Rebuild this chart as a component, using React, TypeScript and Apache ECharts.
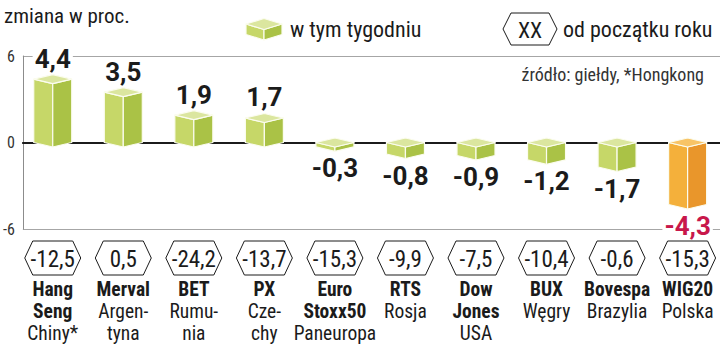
import React, { useEffect, useRef } from "react";
import * as echarts from "echarts";

const categories = ["Hang Seng", "Merval", "BET", "PX", "Euro Stoxx50", "RTS", "Dow Jones", "BUX", "Bovespa", "WIG20"];
const nameLines = [["Hang", "Seng"], ["Merval"], ["BET"], ["PX"], ["Euro", "Stoxx50"], ["RTS"], ["Dow", "Jones"], ["BUX"], ["Bovespa"], ["WIG20"]];
const countryLines = [["Chiny*"], ["Argen-", "tyna"], ["Rumu-", "nia"], ["Cze-", "chy"], ["Paneuropa"], ["Rosja"], ["USA"], ["Węgry"], ["Brazylia"], ["Polska"]];
const weekChange = [4.4, 3.5, 1.9, 1.7, -0.3, -0.8, -0.9, -1.2, -1.7, -4.3];
const ytdChange = [-12.5, 0.5, -24.2, -13.7, -15.3, -9.9, -7.5, -10.4, -0.6, -15.3];
const highlighted = "WIG20";
const yMin = -6;
const yMax = 6;
const yInterval = 6;

const NARROW = "'Liberation Sans Narrow', 'Roboto Condensed', 'DejaVu Sans Condensed', Roboto, sans-serif";
const BOLD = "Roboto, 'Liberation Sans', sans-serif";

const GREEN = { top: "#dbe69f", left: "#c6d768", right: "#aac246" };
const ORANGE = { top: "#f8c466", left: "#f4b03b", right: "#e9962b" };

const fmt = (v: number) => v.toFixed(1).replace(".", ",");

function boxShapes(xc: number, yTop: number, yBot: number, hw: number, d: number, c: any) {
  const stroke = { stroke: "#fbfcef", lineWidth: 1.2, lineJoin: "round" };
  return [
    { type: "polygon", shape: { points: [[xc - hw, yTop], [xc, yTop + d], [xc, yBot + d], [xc - hw, yBot]] }, style: { fill: c.left, ...stroke } },
    { type: "polygon", shape: { points: [[xc, yTop + d], [xc + hw, yTop], [xc + hw, yBot], [xc, yBot + d]] }, style: { fill: c.right, ...stroke } },
    { type: "polygon", shape: { points: [[xc - hw, yTop], [xc, yTop - d], [xc + hw, yTop], [xc, yTop + d]] }, style: { fill: c.top, ...stroke } },
  ];
}

function hexagon(xc: number, yc: number, hw: number, hh: number, inset: number) {
  return [
    [xc - hw, yc], [xc - hw + inset, yc - hh], [xc + hw - inset, yc - hh],
    [xc + hw, yc], [xc + hw - inset, yc + hh], [xc - hw + inset, yc + hh],
  ];
}

export default function App() {
  const ref = useRef<HTMLDivElement>(null);
  useEffect(() => {
    if (!ref.current) return;
    const chart = echarts.init(ref.current, null, { renderer: "svg" });
    const data = weekChange.map((v, i) => [i, v, ytdChange[i]]);

    const renderItem = (params: any, api: any) => {
      const i = params.dataIndex;
      const v = api.value(1);
      const [xc, y0] = api.coord([i, 0]);
      const yv = api.coord([i, v])[1];
      const yBase = api.coord([i, yMin])[1];
      const yTop = Math.min(y0, yv);
      const yBot = Math.max(y0, yv);
      const hw = 19;
      const d = 4.5;
      const hi = categories[i] === highlighted;
      const children: any[] = boxShapes(xc, yTop, yBot, hw, d, hi ? ORANGE : GREEN);
      children.push({
        type: "text",
        x: xc,
        y: v >= 0 ? yTop - d - 3 : yBot + d + 4,
        z2: 10,
        style: {
          text: fmt(v),
          fill: hi ? "#c8174b" : "#1b1b1b",
          fontFamily: BOLD,
          fontWeight: "bold",
          fontSize: 26,
          align: "center",
          verticalAlign: v >= 0 ? "bottom" : "top",
          backgroundColor: "#ffffff",
          padding: [0, 2, 0, 2],
        },
      });
      const hy = yBase + 29;
      children.push({
        type: "polygon",
        shape: { points: hexagon(xc, hy, 28, 17, 8) },
        style: { fill: "#ffffff", stroke: "#1b1b1b", lineWidth: 1 },
      });
      children.push({
        type: "text",
        x: xc,
        y: hy + 1,
        style: { text: fmt(ytdChange[i]), fill: "#1b1b1b", fontFamily: NARROW, fontSize: 23, align: "center", verticalAlign: "middle" },
      });
      const rich = [
        ...nameLines[i].map((t) => `{b|${t}}`),
        ...countryLines[i].map((t) => `{r|${t}}`),
      ].join("\n");
      children.push({
        type: "text",
        x: xc,
        y: yBase + 49,
        style: {
          text: rich,
          align: "center",
          verticalAlign: "top",
          rich: {
            b: { fontFamily: NARROW, fontWeight: "bold", fontSize: 19.5, lineHeight: 22, fill: "#1b1b1b", align: "center" },
            r: { fontFamily: NARROW, fontWeight: "normal", fontSize: 19.5, lineHeight: 22, fill: "#1b1b1b", align: "center" },
          },
        },
      });
      return { type: "group", children };
    };

    const legendBox = boxShapes(264, 24, 34.5, 18, 5.5, GREEN);

    chart.setOption({
      animation: false,
      backgroundColor: "#ffffff",
      title: [
        { text: "zmiana w proc.", left: -1, top: 0, textStyle: { fontFamily: NARROW, fontWeight: "normal", fontSize: 21, color: "#1b1b1b" } },
        { text: "źródło: giełdy, *Hongkong", right: 11, top: 60, textStyle: { fontFamily: NARROW, fontWeight: "normal", fontSize: 18, color: "#333333" } },
      ],
      graphic: [
        ...legendBox.map((s) => ({ ...s })),
        { type: "text", x: 290, y: 29, style: { text: "w tym tygodniu", fill: "#1b1b1b", font: `22px ${NARROW}`, verticalAlign: "middle" } },
        { type: "polygon", shape: { points: hexagon(530, 29, 27, 16, 8) }, style: { fill: "#ffffff", stroke: "#1b1b1b", lineWidth: 1 } },
        { type: "text", x: 530, y: 30, style: { text: "XX", fill: "#1b1b1b", font: `22px ${NARROW}`, align: "center", verticalAlign: "middle" } },
        { type: "text", x: 563, y: 29, style: { text: "od początku roku", fill: "#1b1b1b", font: `22px ${NARROW}`, verticalAlign: "middle" } },
      ],
      grid: { left: 20, right: 0, top: 56, bottom: 116 },
      xAxis: {
        type: "value",
        min: -0.4235,
        max: 9.459,
        axisLine: { show: true, onZero: true, lineStyle: { color: "#1b1b1b", width: 2 } },
        axisTick: { show: false },
        axisLabel: { show: false },
        splitLine: { show: false },
      },
      yAxis: {
        type: "value",
        min: yMin,
        max: yMax,
        interval: yInterval,
        axisLine: { show: true, onZero: false, lineStyle: { color: "#8c8c8c", width: 1 } },
        axisTick: { show: false },
        axisLabel: { margin: 8, fontSize: 16, color: "#333333", fontFamily: NARROW },
        splitLine: { show: true, lineStyle: { color: "#a6a6a6", width: 1 } },
      },
      series: [
        {
          type: "custom",
          name: "w tym tygodniu",
          renderItem,
          encode: { x: 0, y: 1 },
          data,
          clip: false,
          z: 5,
        },
      ],
    });
    return () => chart.dispose();
  }, []);
  return <div ref={ref} style={{ position: "fixed", left: 0, top: 0, width: 720, height: 345 }} />;
}
